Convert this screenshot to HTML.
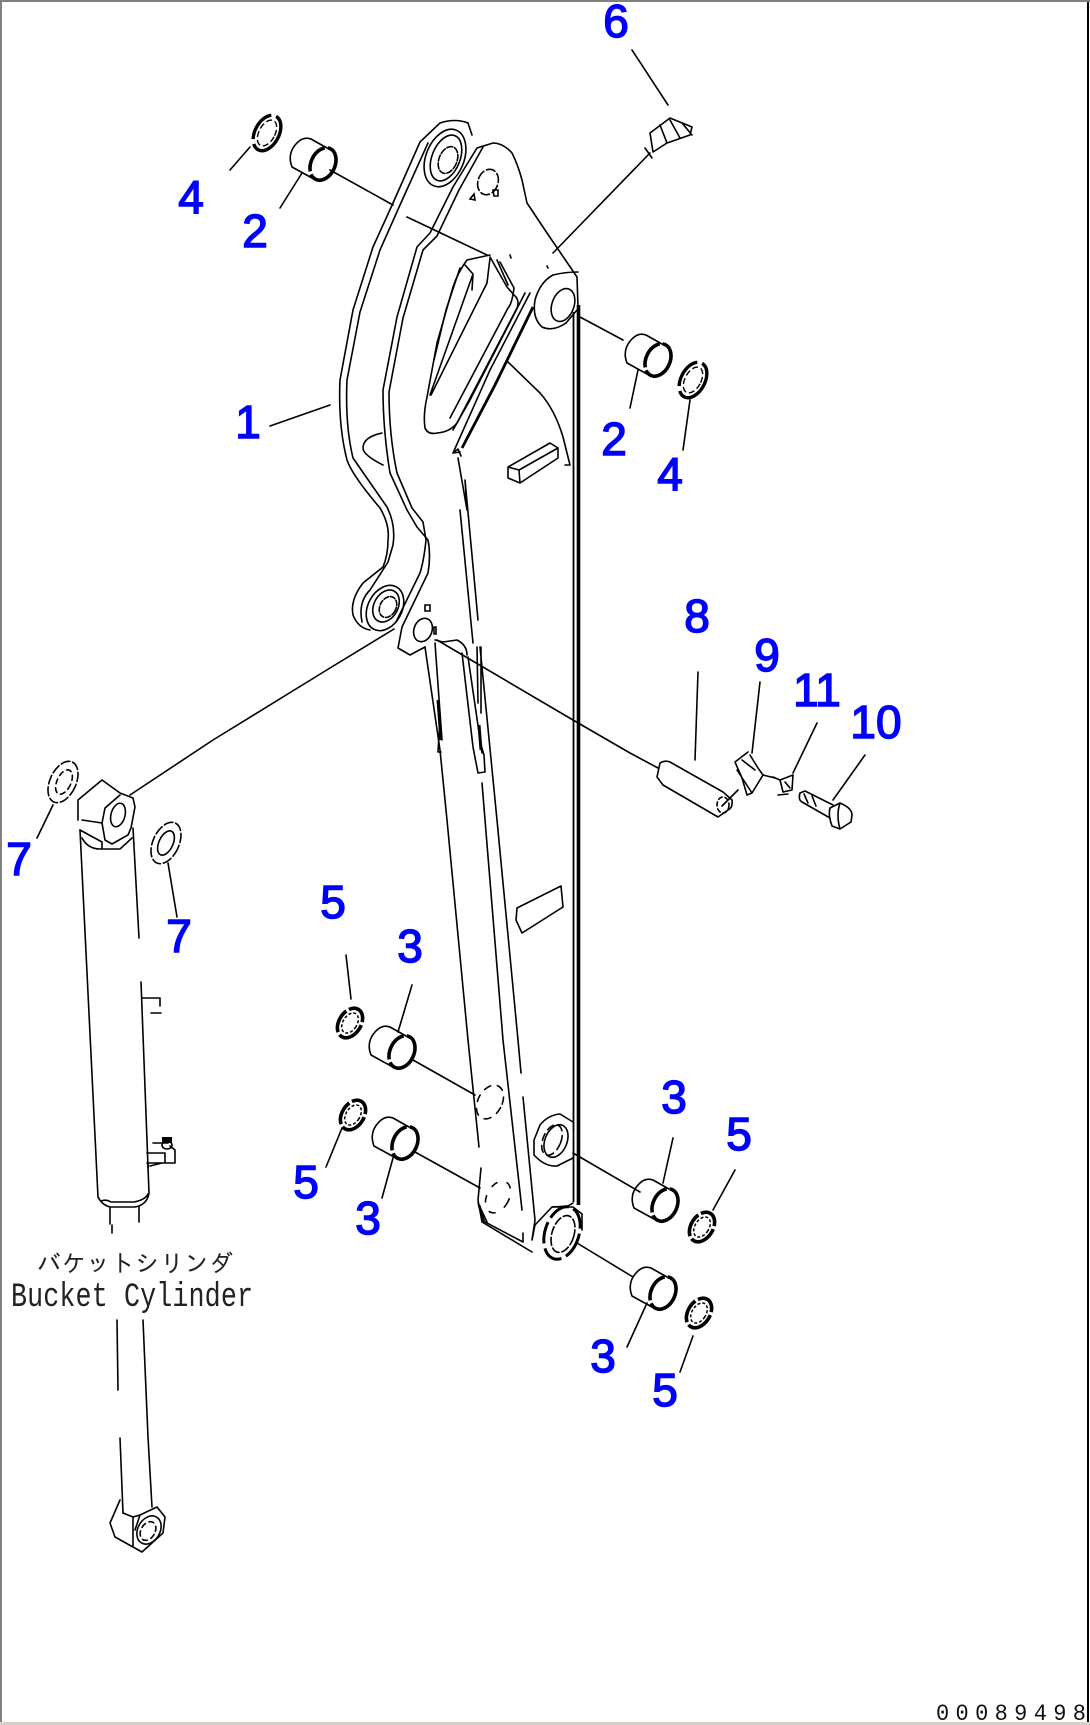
<!DOCTYPE html>
<html><head><meta charset="utf-8"><style>
html,body{margin:0;padding:0;background:#fff}
svg{display:block}
.l{fill:none;stroke:#000;stroke-width:1.6;stroke-linejoin:round;stroke-linecap:round}
.n{font-family:"Liberation Sans",sans-serif;font-size:46px;fill:#0000ff;stroke:#0000ff;stroke-width:1.5;text-anchor:middle}
</style></head><body>
<svg width="1090" height="1725" viewBox="0 0 1090 1725" xmlns="http://www.w3.org/2000/svg">
<defs>
<g id="b"><path class="l" d="M4,-16 L-12,-25 Q-20,-28 -27,-20 Q-36,-10 -31,3 L-11,14"/><ellipse rx="12" ry="17" transform="rotate(25)" fill="none" stroke="#000" stroke-width="3.6" stroke-dasharray="30 3"/></g>
<g id="w"><ellipse rx="11" ry="16" transform="rotate(32)" fill="none" stroke="#000" stroke-width="3.6" stroke-dasharray="24 3"/><ellipse rx="7" ry="11" transform="rotate(32)" fill="none" stroke="#000" stroke-width="1.5" stroke-dasharray="3 2"/></g>
<g id="r"><ellipse rx="12" ry="19" transform="rotate(28)" fill="none" stroke="#000" stroke-width="3.4" stroke-dasharray="32 5"/><ellipse rx="8" ry="14" transform="rotate(28)" fill="none" stroke="#000" stroke-width="1.4" stroke-dasharray="6 3"/></g>
</defs>
<rect width="1090" height="1725" fill="#fff"/>
<rect x="0" y="0" width="1090" height="2" fill="#808080"/>
<rect x="0" y="0" width="2" height="1725" fill="#808080"/>
<rect x="1087" y="2" width="2" height="1720" fill="#000"/>
<rect x="0" y="1722" width="1090" height="3" fill="#d4d0c8"/>

<!-- far plate -->
<path class="l" d="M468,123 Q455,118 440,123 L420,142 L393,203 L373,247 L353,310 L340,380 Q338,425 347,460 Q352,475 380,508 Q390,525 388,540 Q388,555 383,567 L363,583 Q350,600 353,615 Q358,628 370,630"/>
<path class="l" d="M472,135 L468,123 M428,143 L400,205 L380,250 L360,312 L347,380 Q345,425 353,458 L387,507 Q396,525 393,545 L388,562 L370,590 Q358,602 362,622"/>
<ellipse class="l" cx="445" cy="158" rx="19" ry="30" transform="rotate(22 445 158)"/>
<ellipse class="l" cx="446" cy="158" rx="14" ry="24" transform="rotate(22 446 158)"/>
<ellipse class="l" cx="448" cy="160" rx="9" ry="14" transform="rotate(22 448 160)" stroke-dasharray="6 2"/>
<ellipse class="l" cx="385" cy="608" rx="17" ry="24" transform="rotate(28 385 608)"/>
<ellipse class="l" cx="386" cy="606" rx="12" ry="17" transform="rotate(28 386 606)"/>
<ellipse class="l" cx="388" cy="607" rx="8" ry="11" transform="rotate(28 388 607)" stroke-dasharray="5 2"/>
<path class="l" d="M382,433 Q363,437 363,448 Q363,455 383,465"/>

<!-- front plate -->
<path class="l" d="M578,307 L577,277 L547,233 L527,203 L522,180 Q518,165 512,153 Q503,143 493,143 L477,148 L453,187 L430,233 L417,247 L397,317 L383,390 Q383,430 390,473 L407,510 L417,527 L428,540 Q431,555 428,573 L402,627 L398,648 L410,655 L425,647"/>
<path class="l" d="M483,147 L459,190 L437,236 L423,250 L403,318 L389,392 Q389,435 397,473 L412,508 L423,522 L426,540 Q424,560 420,573 L396,622"/>
<ellipse class="l" cx="488" cy="182" rx="10" ry="13" transform="rotate(20 488 182)" stroke-dasharray="9 3"/>
<path d="M470,199 l4,-5 l1,6 z M493,190 l5,0 l0,6 l-4,0 z M425,605 h5 v6 h-5 z M434,627 h2 v7 h-2 z" fill="none" stroke="#000" stroke-width="1.6"/>
<ellipse class="l" cx="423" cy="630" rx="9" ry="12" transform="rotate(20 423 630)"/>

<!-- slot -->
<path class="l" d="M490,255 L467,260 Q458,272 453,287 L437,343 L427,397 Q423,415 425,428 Q428,435 437,433 Q450,432 457,423 L517,308 Q520,300 514,295 L507,287 L490,257"/>
<path class="l" d="M465,265 L473,274 L472,290 M473,274 L430,395 M460,268 L446,310 L434,360 M490,258 L487,283 L431,395 M500,262 L514,288 Q512,304 508,308 L450,418 M497,260 L508,285"/>

<!-- thick diagonal -->
<path d="M533,307 L495,385 L462,448" fill="none" stroke="#000" stroke-width="2.8"/>
<path class="l" d="M530,293 L490,370 L453,453 L460,452 M525,293 L470,400 L453,430"/>
<path class="l" d="M453,453 l5,-4 l3,7 M458,458 L467,510 L465,480 L478,620 M460,510 L473,643 M477,647 L478,703 M481,647 L481,713 M480,647 L497,820 L518,1040 L521,1073 M523,1097 L535,1220 L532,1240 L535,1225 L552,1207 L568,1206 L573,1203"/>

<!-- upper eye -->
<path class="l" d="M578,272 Q565,272 553,275 Q540,282 535,300 Q532,318 542,327 Q553,332 566,323 L577,310"/>
<ellipse class="l" cx="563" cy="305" rx="11" ry="17" transform="rotate(20 563 305)"/>
<!-- long edge -->
<path d="M573.5,312 V1202" fill="none" stroke="#000" stroke-width="1.8"/>
<path d="M578.5,305 V1205" fill="none" stroke="#000" stroke-width="3.6"/>

<!-- curve -->
<path class="l" d="M508,362 L540,393 Q555,410 563,437 L570,465 L565,465"/>
<!-- blocks -->
<path class="l" d="M508,467 L550,443 L558,448 V458 L520,483 L508,478 Z M520,483 L519,470 L508,467 M519,470 L558,448"/>
<path class="l" d="M517,908 L561,886 L563,907 L522,933 L516,920 Z"/>

<!-- lower web lines -->
<path class="l" d="M425,647 L440,750 L447,820 L468,1040 L479,1147 M481,1168 L478,1200 L482,1222 L532,1252"/>
<path class="l" d="M435,643 L442,740 M440,720 L438,752 L441,752 M462,653 L473,747 L478,773 L485,772 L484,755 L481,745 M468,657 L482,753 M482,783 L503,1040 L522,1210"/>
<path d="M438,700 L441,740 M479,725 L481,750" stroke="#000" stroke-width="3" fill="none"/>
<path class="l" d="M435,640 L443,642 L457,640 Q467,645 467,655"/>
<path class="l" d="M485,1222 L523,1242 V1233 M487,1222 L478,1203"/>
<path d="M479,1205 L484,1222" stroke="#000" stroke-width="2.6" fill="none"/>
<ellipse class="l" cx="490" cy="1102" rx="12" ry="18" transform="rotate(28 490 1102)" stroke-dasharray="7 7"/>
<ellipse class="l" cx="498" cy="1197" rx="11" ry="17" transform="rotate(28 498 1197)" stroke-dasharray="6 11"/>

<!-- lower eyes -->
<path class="l" d="M573,1122 L560,1114 Q548,1115 540,1125 L534,1140 L534,1155 Q545,1167 557,1166 L573,1158"/>
<ellipse class="l" cx="556" cy="1141" rx="11" ry="17" transform="rotate(22 556 1141)"/>
<ellipse class="l" cx="552" cy="1140" rx="9" ry="16" transform="rotate(22 552 1140)" stroke-dasharray="7 5"/>
<ellipse cx="562" cy="1233" rx="17" ry="27" transform="rotate(18 562 1233)" fill="#fff" stroke="#000" stroke-width="3" stroke-dasharray="22 5"/>
<ellipse class="l" cx="563" cy="1234" rx="11" ry="19" transform="rotate(18 563 1234)" stroke-dasharray="8 3"/>
<path class="l" d="M552,1207 L573,1207 L582,1214 L582,1230"/>

<!-- bushings and washers -->
<use href="#b" x="323" y="164"/><use href="#b" x="658" y="360"/>
<use href="#b" x="402" y="1052"/><use href="#b" x="405" y="1143"/>
<use href="#b" x="665" y="1205"/><use href="#b" x="663" y="1293"/>
<use href="#r" x="267" y="133"/><use href="#r" x="693" y="380"/>
<use href="#w" x="350" y="1023"/><use href="#w" x="353" y="1115"/><use href="#w" x="702" y="1227"/><use href="#w" x="699" y="1313"/>

<!-- fitting 6 -->
<path class="l" d="M650,133 L670,118 L692,127 L690,135 L667,143 L653,152 Z M660,125 L667,143 M670,120 L680,138 M682,123 L692,135 M645,148 L652,158"/>

<!-- pin & parts -->
<path class="l" d="M660,763 Q665,760 670,762 L723,792 L732,800 Q733,808 728,810 L718,817 L663,785 L657,777 Z"/>
<ellipse class="l" cx="723" cy="805" rx="6" ry="8" stroke-dasharray="4 3"/>
<path class="l" d="M748,752 L735,762 L742,778 L747,795 L752,793 L763,775 L758,768 L750,755 M737,770 L752,793 M742,760 L755,770 M738,790 L722,806"/>
<path class="l" d="M763,775 L775,778 M773,777 L780,780 L793,775 L792,790 L783,792 L780,780 M778,795 L788,794 M785,782 L790,788"/>
<path class="l" d="M800,793 L805,791 L833,805 M800,793 Q798,800 802,802 L830,818 M804,794 L808,803 M812,796 L816,806 M830,808 L840,803 Q852,808 852,815 L851,822 L840,829 L832,826 Q828,815 830,808 M840,803 Q836,815 840,829"/>

<!-- connectors -->
<path class="l" d="M330,170 L393,205 M407,217 L487,255 M510,255 L511,258 M580,317 L623,340 M650,153 L553,253 M547,266 L548,268 M632,50 L668,105"/>
<path class="l" d="M437,640 L573,720 L630,753 L658,768 M394,629 L330,668 L213,740 L130,795"/>
<path class="l" d="M250,147 L230,170 M302,173 L280,208 M270,426 L330,405 M638,370 L630,408 M690,400 L683,450"/>
<path class="l" d="M698,672 L695,760 M760,682 L752,753 M817,723 L793,773 M865,755 L833,800"/>
<path class="l" d="M398,1032 L412,985 M346,955 L351,999 M342,1128 L326,1167 M393,1158 L382,1198 M413,1060 L475,1095 M415,1152 L480,1188 M573,1153 L640,1192 M663,1183 L673,1138 M713,1210 L735,1170 M577,1243 L633,1277 M647,1303 L627,1347 M693,1336 L680,1372"/>
<path class="l" d="M53,805 L37,838 M168,863 L177,917"/>

<!-- cylinder -->
<ellipse class="l" cx="63" cy="782" rx="13" ry="22" transform="rotate(25 63 782)" stroke-dasharray="9 3"/>
<ellipse class="l" cx="64" cy="782" rx="7" ry="13" transform="rotate(25 64 782)" stroke-dasharray="5 4"/>
<ellipse class="l" cx="166" cy="843" rx="13" ry="22" transform="rotate(25 166 843)" stroke-dasharray="9 3"/>
<ellipse class="l" cx="166" cy="843" rx="7" ry="13" transform="rotate(25 166 843)"/>
<path class="l" d="M78,820 V800 L102,780 L120,793 L133,798 L135,807 L131,828 L128,835 L112,844 L105,840 L102,823 L105,808 L120,795"/>
<ellipse class="l" cx="118" cy="815" rx="7" ry="12" transform="rotate(15 118 815)"/>
<path class="l" d="M80,830 L102,842 V849 M82,838 Q88,849 100,849 L120,849 L132,838 M102,823 L82,820"/>
<path class="l" d="M80,830 L98,1197 M133,828 L139,938 M141,982 L149,1193 M98,1197 Q102,1205 110,1207 H135 Q147,1205 149,1193 M101,1201 Q106,1199 111,1202 H134 Q145,1200 148,1194"/>
<path class="l" d="M142,998 H160 V1006 M151,1013 H161"/>
<path class="l" d="M147,1153 H165 V1163 H147 M150,1166 L162,1163 L175,1163 V1150 L170,1146 M153,1143 H168 M148,1168 V1163"/>
<path d="M162,1137 h10 v6 h-10 z" fill="#000"/>
<ellipse class="l" cx="167" cy="1145" rx="5" ry="4"/>
<path class="l" d="M110,1208 V1224 M112,1225 V1233 M139,1207 V1222"/>

<!-- rod & lower eye -->
<path class="l" d="M117,1320 L118,1390 M120,1438 L123,1513 M143,1320 L148,1437 L152,1507"/>
<path class="l" d="M120,1500 L110,1523 L115,1537 L142,1552 L163,1533 L165,1517 L157,1507 L140,1515 L133,1517 L123,1513"/>
<ellipse class="l" cx="149" cy="1530" rx="11" ry="15" transform="rotate(30 149 1530)"/>
<ellipse class="l" cx="148" cy="1531" rx="7" ry="10" transform="rotate(30 148 1531)" stroke-dasharray="5 4"/>
<path class="l" d="M133,1518 L133,1546 M140,1515 L135,1530"/>

<!-- texts -->
<text x="37" y="1272" font-family="'Liberation Sans','IPAGothic','Noto Sans CJK JP',sans-serif" font-size="24" fill="#222" textLength="196" lengthAdjust="spacing">バケットシリンダ</text>
<text transform="translate(11,1306) scale(1,1.3)" font-family="'Liberation Mono',monospace" font-size="26.7" fill="#222" textLength="242" lengthAdjust="spacing">Bucket Cylinder</text>
<text transform="translate(936,1720) scale(1,1.05)" font-family="'Liberation Mono',monospace" font-size="22" fill="#111" textLength="150" lengthAdjust="spacing">00089498</text>

<!-- numbers -->
<text class="n" x="616" y="37">6</text>
<text class="n" x="191" y="213">4</text>
<text class="n" x="255" y="247">2</text>
<text class="n" x="248" y="438">1</text>
<text class="n" x="614" y="455">2</text>
<text class="n" x="670" y="490">4</text>
<text class="n" x="697" y="632">8</text>
<text class="n" x="767" y="671">9</text>
<text class="n" x="817" y="706">11</text>
<text class="n" x="876" y="738">10</text>
<text class="n" x="19" y="875">7</text>
<text class="n" x="179" y="952">7</text>
<text class="n" x="333" y="918">5</text>
<text class="n" x="410" y="962">3</text>
<text class="n" x="674" y="1113">3</text>
<text class="n" x="739" y="1150">5</text>
<text class="n" x="306" y="1198">5</text>
<text class="n" x="368" y="1234">3</text>
<text class="n" x="603" y="1372">3</text>
<text class="n" x="665" y="1406">5</text>
</svg>
</body></html>
